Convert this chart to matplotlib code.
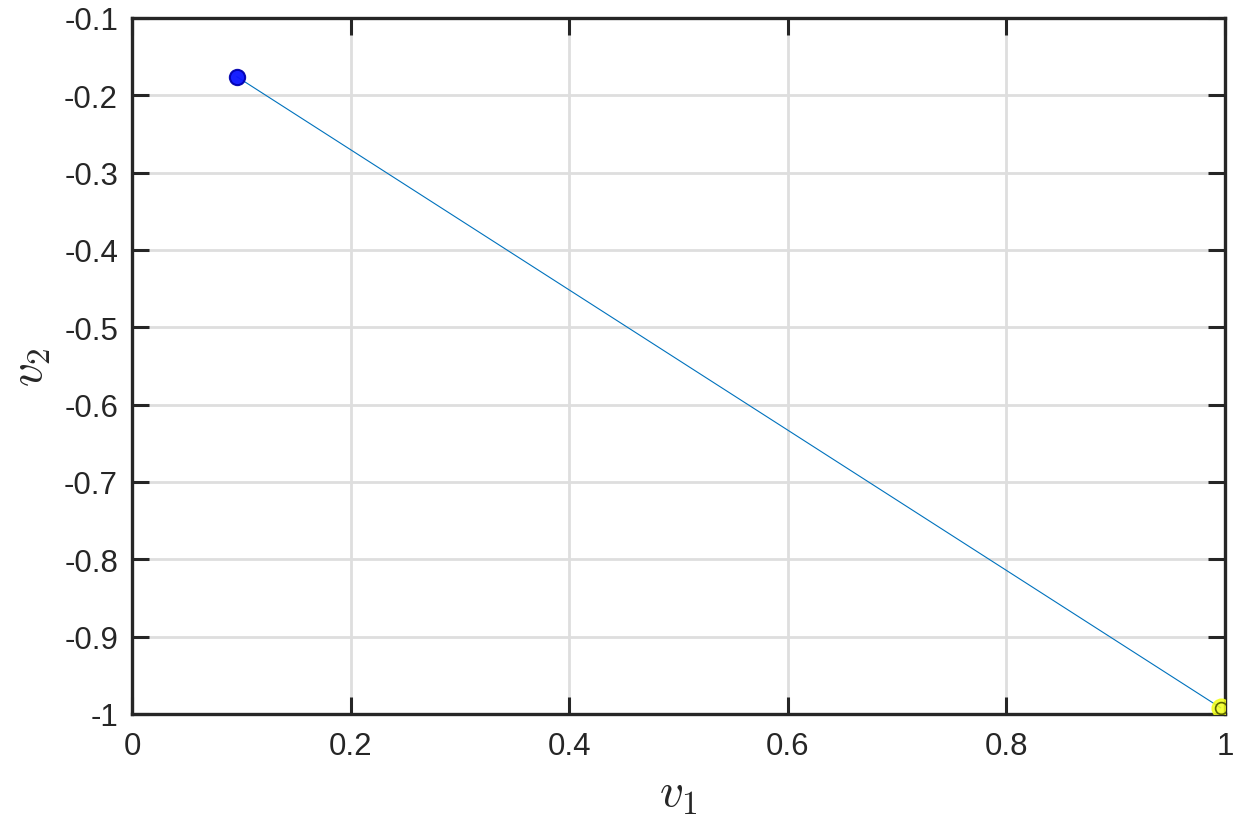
import matplotlib.pyplot as plt

# trajectory in (v1, v2) space
v1 = [0.096, 0.996]
v2 = [-0.176, -0.992]

# start / end points
start = (0.096, -0.176)
end = (0.996, -0.992)

xticks = [0, 0.2, 0.4, 0.6, 0.8, 1]
yticks = [-1, -0.9, -0.8, -0.7, -0.6, -0.5, -0.4, -0.3, -0.2, -0.1]

plt.rcParams['font.family'] = ['Liberation Sans', 'DejaVu Sans']
plt.rcParams['mathtext.fontset'] = 'cm'

fig = plt.figure(figsize=(12.5, 8.28), dpi=100)
ax = fig.add_axes([132 / 1250, 1 - 715 / 828, (1225 - 132) / 1250, (715 - 19) / 828])

ax.plot(v1, v2, color='#0072BD', lw=0.8, zorder=3)
ax.plot(*start, 'o', ms=11, mfc='#0a14ff', mec='#0000b0', mew=1.5, alpha=0.95, zorder=4)
ax.plot(*end, 'o', ms=13.5, mfc='#f2ff1a', mec='#f2ff1a', alpha=0.85, zorder=4)
ax.plot(*end, 'o', ms=8.5, mfc='none', mec='#5a6400', mew=1.2, zorder=5)

ax.set_xlim(0, 1)
ax.set_ylim(-1, -0.1)
ax.set_xticks(xticks)
ax.set_xticklabels(['0', '0.2', '0.4', '0.6', '0.8', '1'])
ax.set_yticks(yticks)
ax.set_yticklabels(['-1', '-0.9', '-0.8', '-0.7', '-0.6', '-0.5', '-0.4', '-0.3', '-0.2', '-0.1'])

ax.grid(True, color='#dedede', lw=2)
ax.set_axisbelow(True)
ax.tick_params(direction='in', length=12, width=2.2, labelsize=22.5, colors='#262626',
               top=True, right=True, pad=10)
ax.tick_params(axis='x', pad=12)
for s in ax.spines.values():
    s.set_linewidth(2.4)
    s.set_color('#262626')

ax.set_xlabel(r'$v_1$', fontsize=34, labelpad=8, color='#262626')
ax.set_ylabel(r'$v_2$', fontsize=34, labelpad=8, color='#262626')

plt.savefig('out.png', dpi=100)
